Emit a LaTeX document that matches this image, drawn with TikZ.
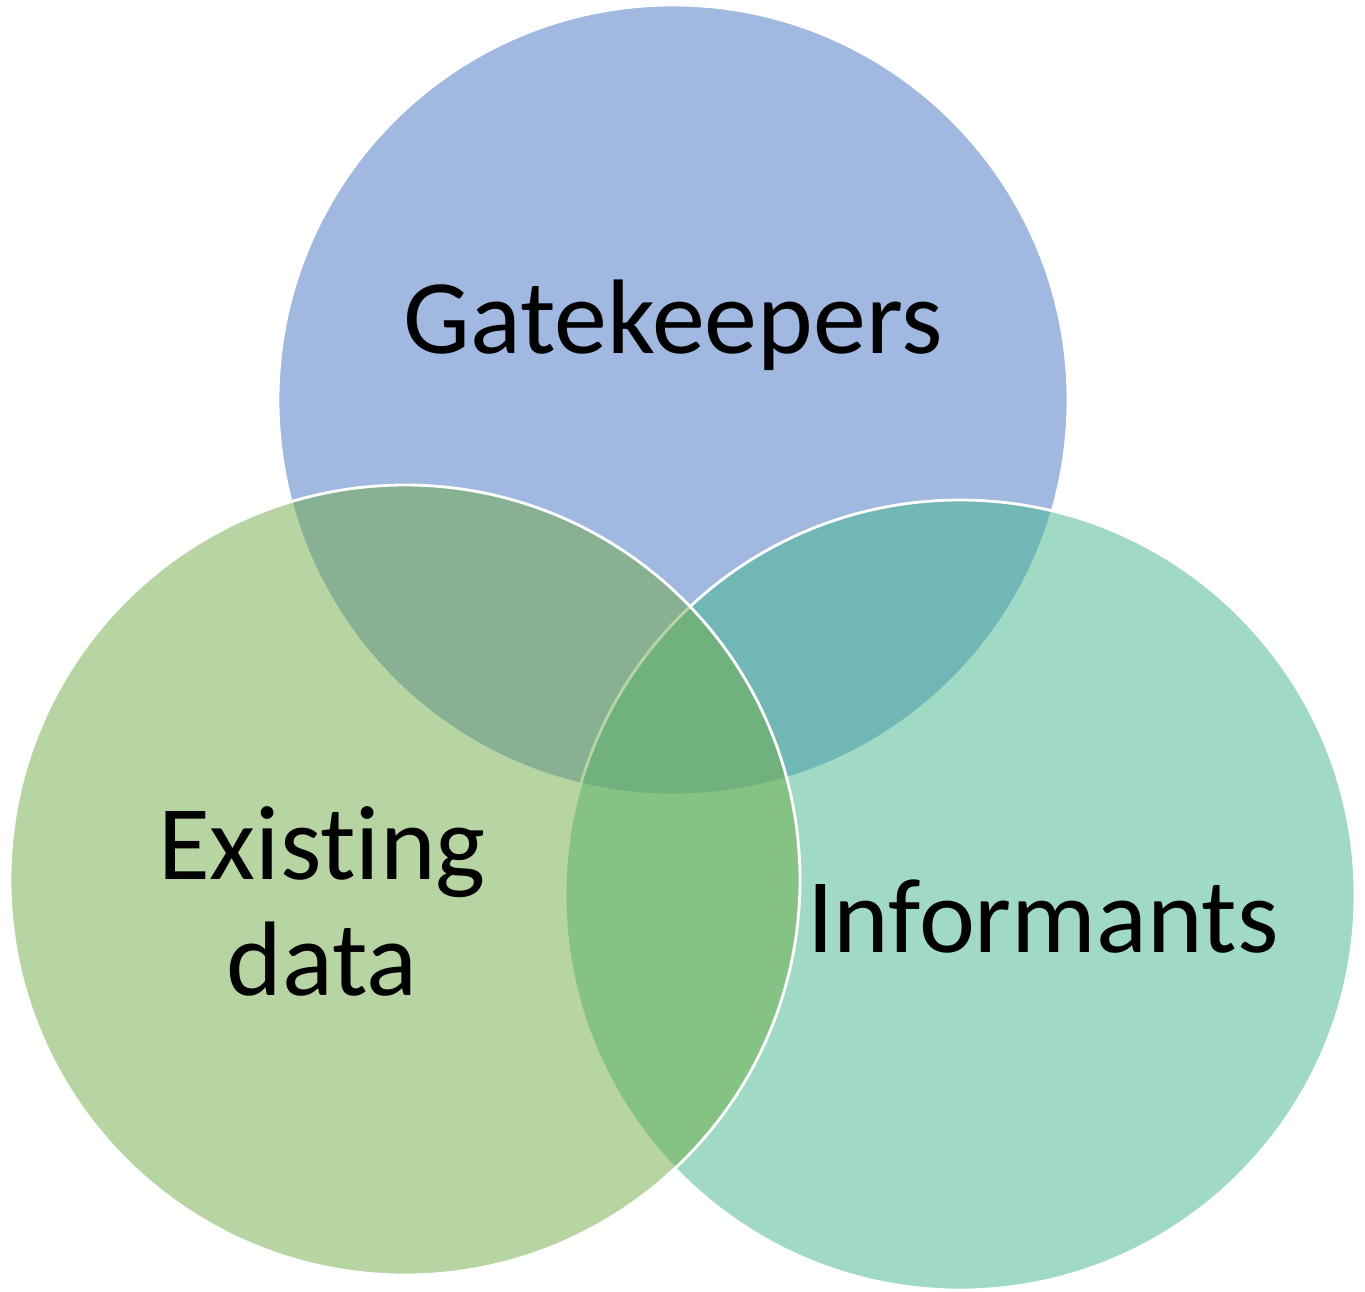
\documentclass[tikz,border=0pt]{standalone}
\usepackage{fontspec}
\setmainfont{Carlito}[RawFeature={-liga}]
\definecolor{cblue}{RGB}{68,114,196}
\definecolor{cteal}{RGB}{67,183,141}
\definecolor{cgreen}{RGB}{112,172,71}
\begin{document}
\begin{tikzpicture}[x=1pt,y=-1pt,
  venn/.style={fill opacity=0.5, draw=white, draw opacity=1, line width=2.8pt},
  lbl/.style={font=\fontsize{106}{116}\selectfont, text=black, inner sep=0pt, align=center}]
\useasboundingbox (0,0) rectangle (1365,1291);
\fill[white] (0,0) rectangle (1365,1291);
\path[venn, fill=cblue] (673,400) circle[radius=395];
\path[venn, fill=cteal] (960,895) circle[radius=395];
\path[venn, fill=cgreen] (405,880) circle[radius=395];
\node[lbl, anchor=base] (gk) at (673,353) {Gatekeepers};
\node[lbl, anchor=base] (inf) at (1043,952) {Informants};
\node[lbl, anchor=base] (ed) at (322,995) {Existing\\data};
\end{tikzpicture}
\end{document}
